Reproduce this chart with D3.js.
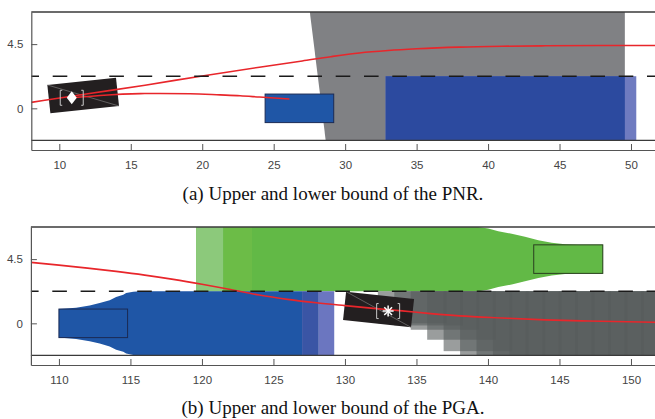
<!DOCTYPE html>
<html><head><meta charset="utf-8">
<script src="https://cdn.jsdelivr.net/npm/d3@7"></script>
<style>body{margin:0;background:#fff}svg{display:block}</style>
</head><body><svg id="c" width="655" height="419"></svg>
<script>
// ================= DATA =================
const xTicksA = [10,15,20,25,30,35,40,45,50];
const xTicksB = [110,115,120,125,130,135,140,145,150];
const yTicks = [0, 4.5];
const yTickLabels = ["0", "4.5"];
const lane = [-2.25, 2.25, 6.75];           // road lower edge, centre line, road upper edge
const captions = ["(a) Upper and lower bound of the PNR.", "(b) Upper and lower bound of the PGA."];

// ---- panel (a) ----
const grayAx = [27.53, 49.57, 49.57, 28.64];  // occupancy polygon (gray)
const grayAy = [6.75, 6.75, -2.25, -2.25];
const blueAx = [32.83, 50.37];                // blue bound, x extent (lane -2.25..2.25)
const carA   = [24.4, 29.2, -1.0, 1.0];       // other vehicle box x0,x1,y0,y1
const egoA   = [11.67, 0.90, 4.83, 2.0, 6.1]; // cx, cy, length, width, yaw (deg)
const markA  = [10.87, 0.74];
const trajA1x = [8.04, 12, 16, 20, 24, 27, 29, 31, 33, 35, 38, 41, 44, 48, 51.7];
const trajA1y = [0.42, 1.02, 1.62, 2.27, 2.88, 3.32, 3.62, 3.88, 4.05, 4.17, 4.29, 4.35, 4.38, 4.40, 4.40];
const trajA2x = [10.87, 12.85, 15.65, 17.05, 19.15, 21.25, 22.65, 24.0, 26.1];
const trajA2y = [0.74, 0.90, 1.03, 1.04, 1.02, 0.94, 0.88, 0.79, 0.65];

// ---- panel (b) ----
const greenX  = [119.6, 139.32, 140.02, 140.72, 141.66, 142.59, 143.52, 144.46, 145.39, 146.32, 148.03];
const greenHW = [2.25, 2.25, 2.14, 1.96, 1.78, 1.56, 1.32, 1.15, 1.05, 1.0, 1.0];
const greenCY = 4.5;
const greenShadeX = [119.6, 121.5, 123.5];
const greenBox = [143.2, 148.03, 3.5, 5.5];
const blueX  = [110.0, 111.2, 112.15, 112.85, 113.55, 114.0, 114.5, 114.7, 115.2, 115.65, 127.0];
const blueHW = [1.0, 1.1, 1.25, 1.42, 1.62, 1.85, 2.0, 2.12, 2.22, 2.25, 2.25];
const blueTailX = [127.0, 128.17, 129.25];
const blueBox = [110.0, 114.8, -1.0, 1.0];
const graySnapRear  = [132.3, 133.45, 134.6, 135.75, 136.9, 138.05, 139.2, 140.35, 141.5, 142.65, 143.8, 144.95, 146.1, 147.25, 148.4, 149.55, 150.7];
const graySnapLower = [0.0, -0.15, -0.45, -1.15, -1.95, -2.25, -2.25, -2.25, -2.25, -2.25, -2.25, -2.25, -2.25, -2.25, -2.25, -2.25, -2.25];
const graySnapLen = 4.8;
const egoB  = [132.35, 0.97, 4.78, 2.0, -6.1];
const markB = [133.02, 0.86];
const trajBx = [108.04, 110, 112, 114, 116, 118, 120, 122, 124, 126, 128, 130, 132, 134, 136, 138, 141, 144, 147, 151.7];
const trajBy = [4.27, 4.08, 3.87, 3.64, 3.38, 3.08, 2.74, 2.37, 1.98, 1.68, 1.44, 1.24, 1.05, 0.87, 0.68, 0.52, 0.37, 0.24, 0.16, 0.07];

// ================= DRAW =================
const svg = d3.select("#c");
const RED = "#e8262b";
const yDom = [-2.92, 6.75];

function carPts(c, x, y){
  const [cx,cy,L,W,a] = c, t = a*Math.PI/180;
  return [[-L/2,W/2],[L/2,W/2],[L/2,-W/2],[-L/2,-W/2]].map(([u,v]) =>
    [x(cx + u*Math.cos(t) - v*Math.sin(t)), y(cy + u*Math.sin(t) + v*Math.cos(t))]);
}

function frame(g, x, y, id){
  const [x0] = x.range();
  svg.append("clipPath").attr("id", id).append("rect")
    .attr("x", x0).attr("y", y(lane[2])).attr("width", 655 - x0).attr("height", y(lane[0]) - y(lane[2]));
  return g.append("g").attr("clip-path", `url(#${id})`);
}

function axes(g, x, y, ticks){
  const xa = g.append("g").attr("transform", `translate(0,${y.range()[0]})`)
    .call(d3.axisBottom(x).tickValues(ticks).tickFormat(d3.format("d"))
      .tickSizeInner(-6).tickSizeOuter(0).tickPadding(11));
  const ya = g.append("g").attr("transform", `translate(${x.range()[0]},0)`)
    .call(d3.axisLeft(y).tickValues(yTicks).tickFormat((d,i) => yTickLabels[i])
      .tickSizeInner(-6).tickSizeOuter(0).tickPadding(8));
  [xa, ya].forEach(a => {
    a.select(".domain").attr("stroke", "#555").attr("stroke-width", 1.2);
    a.selectAll(".tick line").attr("stroke", "#555").attr("stroke-width", 1);
    a.selectAll(".tick text").attr("fill", "#444").attr("font-size", 11.5)
      .attr("font-family", "Liberation Sans, Arial, sans-serif");
  });
}

function roadLines(g, x, y){
  const [x0] = x.range();
  [lane[0], lane[2]].forEach(v => g.append("line").attr("x1", x0).attr("x2", 655)
    .attr("y1", y(v)).attr("y2", y(v)).attr("stroke", "#3a3a3a").attr("stroke-width", 1.3));
  g.append("line").attr("x1", x0).attr("x2", 655).attr("y1", y(lane[1])).attr("y2", y(lane[1]))
    .attr("stroke", "#1a1a1a").attr("stroke-width", 1.4)
    .attr("stroke-dasharray", "14.6 13.7").attr("stroke-dashoffset", 6.9);
}

function ego(g, c, x, y){
  const p = carPts(c, x, y);
  g.append("polygon").attr("points", p.map(d => d.join(",")).join(" ")).attr("fill", "#231f20");
  g.append("line").attr("x1", p[0][0]).attr("y1", p[0][1]).attr("x2", p[2][0]).attr("y2", p[2][1])
    .attr("stroke", "#8a8a8a").attr("stroke-width", 0.6);
}

function marker(g, m, x, y, type){
  const mg = g.append("g").attr("transform", `translate(${x(m[0])},${y(m[1])})`);
  mg.append("path").attr("d", "M-9.5,-7.5 h-2 v15 h2 M9.5,-7.5 h2 v15 h-2")
    .attr("fill", "none").attr("stroke", "#c8c8c8").attr("stroke-width", 1);
  if (type === "diamond") {
    mg.append("path").attr("d", "M0,-6.5 L5,0 L0,6.5 L-5,0 Z").attr("fill", "#fff");
  } else {
    [0,45,90,135].forEach(a => {
      const t = a*Math.PI/180, r = 5.5;
      mg.append("line").attr("x1", -r*Math.cos(t)).attr("y1", -r*Math.sin(t))
        .attr("x2", r*Math.cos(t)).attr("y2", r*Math.sin(t))
        .attr("stroke", "#fff").attr("stroke-width", 1.5);
    });
  }
}

const line = (x, y) => d3.line().x(d => x(d[0])).y(d => y(d[1])).curve(d3.curveMonotoneX);

// ---------- panel (a) ----------
{
  const x = d3.scaleLinear().domain([8.04, 51.68]).range([31.3, 655]);
  const y = d3.scaleLinear().domain(yDom).range([150, 12]);
  const g = svg.append("g");
  const plot = frame(g, x, y, "clipA");

  plot.append("polygon").attr("points", grayAx.map((v,i) => [x(v), y(grayAy[i])].join(",")).join(" "))
    .attr("fill", "#808184");
  plot.append("rect").attr("x", x(blueAx[0])).attr("width", x(blueAx[1]) - x(blueAx[0]))
    .attr("y", y(lane[1])).attr("height", y(lane[0]) - y(lane[1])).attr("fill", "#6f7bc0");
  plot.append("rect").attr("x", x(blueAx[0])).attr("width", x(Math.min(blueAx[1], grayAx[1])) - x(blueAx[0]))
    .attr("y", y(lane[1])).attr("height", y(lane[0]) - y(lane[1])).attr("fill", "#2c4a9f");
  plot.append("rect").attr("x", x(carA[0])).attr("width", x(carA[1]) - x(carA[0]))
    .attr("y", y(carA[3])).attr("height", y(carA[2]) - y(carA[3]))
    .attr("fill", "#1f56a6").attr("stroke", "#1b2b55").attr("stroke-width", 1);
  ego(plot, egoA, x, y);
  roadLines(g, x, y);
  plot.append("path").datum(trajA1x.map((v,i) => [v, trajA1y[i]])).attr("d", line(x,y))
    .attr("fill", "none").attr("stroke", RED).attr("stroke-width", 1.6);
  plot.append("path").datum(trajA2x.map((v,i) => [v, trajA2y[i]])).attr("d", line(x,y))
    .attr("fill", "none").attr("stroke", RED).attr("stroke-width", 1.6);
  marker(plot, markA, x, y, "diamond");
  axes(g, x, y, xTicksA);
  svg.append("text").attr("x", 333).attr("y", 200).attr("text-anchor", "middle")
    .attr("font-family", "Liberation Serif, Times New Roman, serif").attr("font-size", 19)
    .attr("fill", "#111").text(captions[0]);
}

// ---------- panel (b) ----------
{
  const x = d3.scaleLinear().domain([108.04, 151.68]).range([30.9, 655]);
  const y = d3.scaleLinear().domain(yDom).range([365, 227]);
  const g = svg.append("g");
  const plot = frame(g, x, y, "clipB");

  const gpts = greenX.map((v,i) => [v, greenHW[i]]);
  plot.append("path").datum(gpts)
    .attr("d", d3.area().x(d => x(d[0])).y0(d => y(greenCY - d[1])).y1(d => y(greenCY + d[1])))
    .attr("fill", "#62b946");
  plot.append("rect").attr("x", x(greenShadeX[0])).attr("width", x(greenShadeX[1]) - x(greenShadeX[0]))
    .attr("y", y(lane[2])).attr("height", y(lane[1]) - y(lane[2])).attr("fill", "#8cc97b");
  plot.append("rect").attr("x", x(greenShadeX[1])).attr("width", x(greenShadeX[2]) - x(greenShadeX[1]))
    .attr("y", y(lane[2])).attr("height", y(lane[1]) - y(lane[2])).attr("fill", "#6cbc47");
  const bpts = blueX.map((v,i) => [v, blueHW[i]]);
  plot.append("path").datum(bpts)
    .attr("d", d3.area().x(d => x(d[0])).y0(d => y(-d[1])).y1(d => y(d[1])))
    .attr("fill", "#1f56a6");
  const tailCol = ["#3a55a5", "#6b76c0"];
  for (let i = 0; i < blueTailX.length - 1; i++)
    plot.append("rect").attr("x", x(blueTailX[i])).attr("width", x(blueTailX[i+1]) - x(blueTailX[i]))
      .attr("y", y(lane[1])).attr("height", y(lane[0]) - y(lane[1])).attr("fill", tailCol[i]);
  plot.selectAll("rect.snap").data(graySnapRear.map((r,i) => [r, graySnapLower[i]])).join("rect")
    .attr("class", "snap")
    .attr("x", d => x(d[0])).attr("width", x(graySnapLen) - x(0))
    .attr("y", y(lane[1])).attr("height", d => y(d[1]) - y(lane[1]))
    .attr("fill", "rgb(87,91,92)").attr("fill-opacity", 0.6);
  plot.append("rect").attr("x", x(blueBox[0])).attr("width", x(blueBox[1]) - x(blueBox[0]))
    .attr("y", y(blueBox[3])).attr("height", y(blueBox[2]) - y(blueBox[3]))
    .attr("fill", "#1f56a6").attr("stroke", "#1b2b55").attr("stroke-width", 1);
  plot.append("rect").attr("x", x(greenBox[0])).attr("width", x(greenBox[1]) - x(greenBox[0]))
    .attr("y", y(greenBox[3])).attr("height", y(greenBox[2]) - y(greenBox[3]))
    .attr("fill", "#62b946").attr("stroke", "#2a4020").attr("stroke-width", 1);
  ego(plot, egoB, x, y);
  roadLines(g, x, y);
  plot.append("path").datum(trajBx.map((v,i) => [v, trajBy[i]])).attr("d", line(x,y))
    .attr("fill", "none").attr("stroke", RED).attr("stroke-width", 1.6);
  marker(plot, markB, x, y, "star");
  axes(g, x, y, xTicksB);
  svg.append("text").attr("x", 333).attr("y", 414).attr("text-anchor", "middle")
    .attr("font-family", "Liberation Serif, Times New Roman, serif").attr("font-size", 19)
    .attr("fill", "#111").text(captions[1]);
}
</script></body></html>
